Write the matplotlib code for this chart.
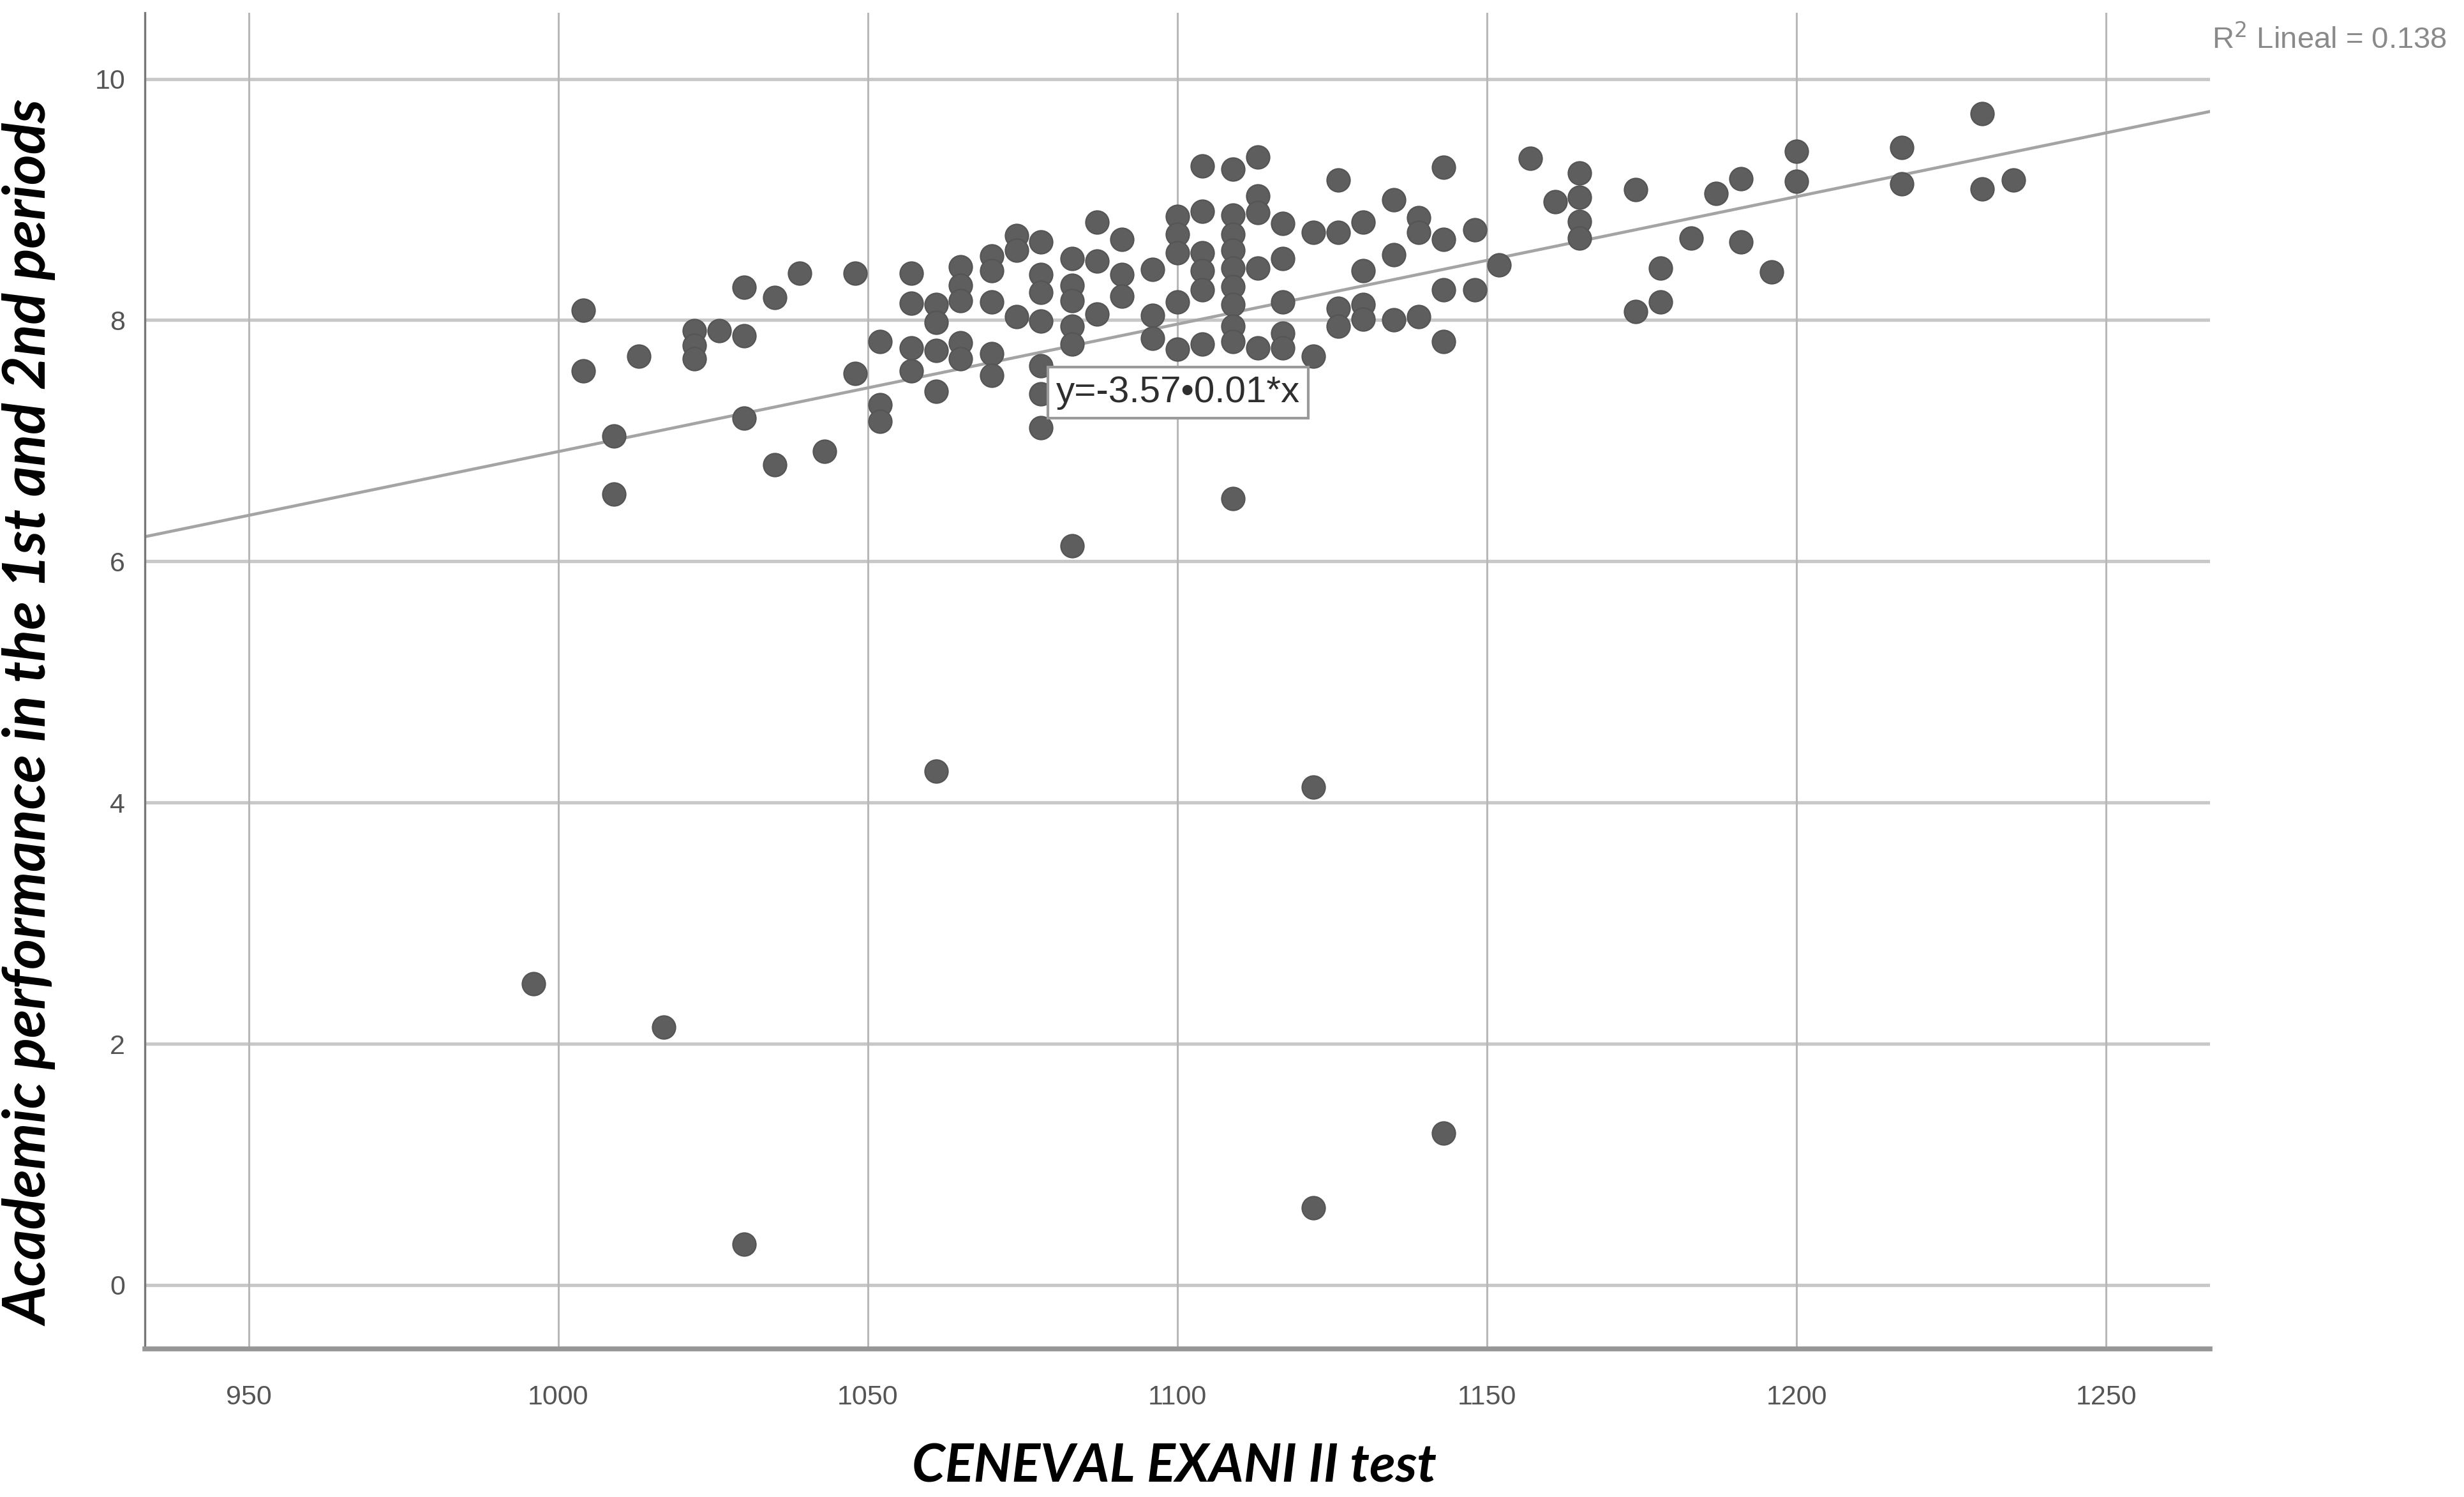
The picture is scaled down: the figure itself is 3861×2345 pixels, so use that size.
import matplotlib
matplotlib.use("Agg")
import matplotlib.pyplot as plt

# CENEVAL EXANI II score columns and the academic performance values read at each column
score_cols = [996, 1004, 1009, 1013, 1017, 1022, 1026, 1030, 1035, 1039, 1043, 1048,
              1052, 1057, 1061, 1065, 1070, 1074, 1078, 1083, 1087, 1091, 1096, 1100,
              1104, 1109, 1113, 1117, 1122, 1126, 1130, 1135, 1139, 1143, 1148, 1152,
              1157, 1161, 1165, 1174, 1178, 1183, 1187, 1191, 1196, 1200, 1217, 1230, 1235]
perf_by_col = [
    [2.50],
    [8.08, 7.58],
    [7.04, 6.56],
    [7.70],
    [2.14],
    [7.91, 7.79, 7.68],
    [7.91],
    [8.27, 7.87, 7.19, 0.34],
    [8.19, 6.80],
    [8.39],
    [6.91],
    [8.39, 7.56],
    [7.82, 7.30, 7.16],
    [8.39, 8.14, 7.77, 7.58],
    [8.13, 7.98, 7.75, 7.41, 4.26],
    [8.44, 8.29, 8.16, 7.81, 7.68],
    [8.53, 8.41, 8.15, 7.72, 7.54],
    [8.70, 8.58, 8.03],
    [8.65, 8.38, 8.23, 7.99, 7.62, 7.39, 7.11],
    [8.51, 8.29, 8.16, 7.95, 7.80, 6.13],
    [8.81, 8.49, 8.05],
    [8.67, 8.38, 8.20],
    [8.42, 8.04, 7.85],
    [8.86, 8.71, 8.56, 8.15, 7.76],
    [9.28, 8.90, 8.56, 8.41, 8.25, 7.80],
    [9.25, 8.87, 8.71, 8.58, 8.43, 8.28, 8.13, 7.95, 7.82, 6.52],
    [9.35, 9.03, 8.89, 8.43, 7.77],
    [8.80, 8.51, 8.15, 7.89, 7.77],
    [8.73, 7.70, 4.13, 0.64],
    [9.16, 8.73, 8.10, 7.95],
    [8.81, 8.41, 8.13, 8.01],
    [9.00, 8.54, 8.00],
    [8.85, 8.73, 8.03],
    [9.27, 8.67, 8.25, 7.82, 1.26],
    [8.75, 8.25],
    [8.46],
    [9.34],
    [8.98],
    [9.22, 9.02, 8.82, 8.68],
    [9.08, 8.07],
    [8.43, 8.15],
    [8.68],
    [9.05],
    [9.17, 8.65],
    [8.40],
    [9.40, 9.15],
    [9.43, 9.13],
    [9.71, 9.09],
    [9.16],
]

# linear fit as drawn in the chart
fit_intercept = -3.66
fit_slope = 0.01057
equation_text = "y=-3.57•0.01*x"
r2_text = "R$^2$ Lineal = 0.138"

x_ticks = [950, 1000, 1050, 1100, 1150, 1200, 1250]
y_ticks = [0, 2, 4, 6, 8, 10]

scores = [x for x, ys in zip(score_cols, perf_by_col) for _ in ys]
perf = [y for ys in perf_by_col for y in ys]

fig = plt.figure(figsize=(38.62, 23.45), dpi=100)
ax = fig.add_axes([0.0587, 0.0989, 0.838, 0.8927])

xmin, xmax = 933.2, 1266.8
ax.set_xlim(xmin, xmax)
ax.set_ylim(-0.53, 10.55)

# grid
for yv in y_ticks:
    ax.axhline(yv, color="#c8c8c8", lw=3.8, zorder=0)
for xv in x_ticks:
    ax.axvline(xv, color="#b8b8b8", lw=2.2, zorder=0)

# fit line
ax.plot([xmin, xmax], [fit_intercept + fit_slope * xmin, fit_intercept + fit_slope * xmax],
        color="#a4a4a4", lw=3.4, zorder=2)

# points
ax.scatter(scores, perf, s=680, facecolor="#5e5e5e", edgecolor="#555555",
           linewidth=1.5, zorder=3)

ax.text(1080.4, 7.40, equation_text, fontsize=42, family="Liberation Sans",
        color="#2e2e2e", ha="left", va="center", zorder=4,
        bbox=dict(boxstyle="square,pad=0.22", facecolor="white",
                  edgecolor="#9a9a9a", linewidth=3))

ax.set_xticks(x_ticks)
ax.set_yticks(y_ticks)
ax.tick_params(length=0, labelsize=31, labelcolor="#555555")
ax.tick_params(axis="x", pad=40)
ax.tick_params(axis="y", pad=22)
for lab in ax.get_xticklabels() + ax.get_yticklabels():
    lab.set_family("Liberation Sans")

for side in ["top", "right"]:
    ax.spines[side].set_visible(False)
ax.spines["left"].set_color("#777777")
ax.spines["left"].set_linewidth(2.4)
ax.spines["bottom"].set_color("#969696")
ax.spines["bottom"].set_linewidth(5.5)

fig.text(0.4764, 0.020, "CENEVAL EXANI II test", fontsize=60, family="Lato",
         style="italic", weight="bold", ha="center", va="center")
fig.text(0.0127, 0.5237, "Academic performance in the 1st and 2nd periods", fontsize=66,
         family="Lato", style="italic", weight="bold", rotation=90,
         ha="center", va="center")
fig.text(0.8975, 0.9736, r2_text, fontsize=34, family="Liberation Sans",
         color="#8a8a8a", ha="left", va="center")

fig.savefig("out.png", dpi=100)
